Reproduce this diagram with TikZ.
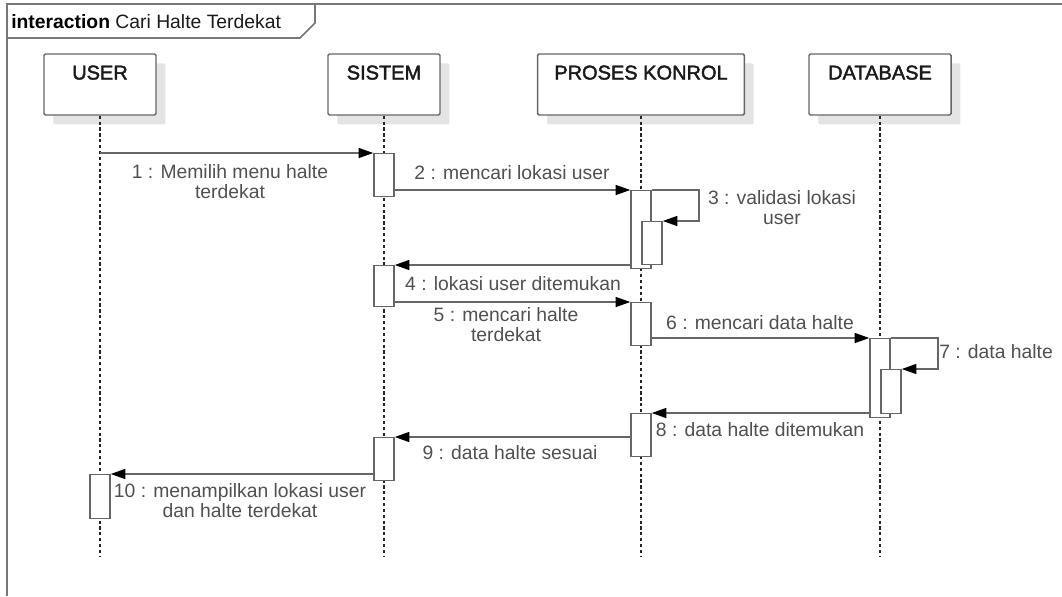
\documentclass[tikz,border=0pt]{standalone}
\usepackage{fontspec}
\setmainfont{Liberation Sans}
\newfontfamily\headfont[FakeBold=2]{Liberation Sans}
\usetikzlibrary{arrows.meta,shadows}
\definecolor{linegray}{HTML}{666666}
\definecolor{framegray}{HTML}{777777}
\definecolor{textgray}{HTML}{505050}
\definecolor{headtext}{HTML}{1A1A1A}
\definecolor{shadowgray}{HTML}{E4E4E4}

\begin{document}
\begin{tikzpicture}[x=0.75pt,y=-0.75pt,
  frame/.style={draw=framegray, line width=1.2pt},
  head/.style={draw=linegray, line width=1.1pt, fill=white, rounded corners=1pt,
    minimum height=45.75pt, inner sep=0pt,
    drop shadow={shadow xshift=7pt, shadow yshift=-7pt, fill=shadowgray, opacity=1}},
  headlbl/.style={font=\headfont\fontsize{15}{18}\selectfont, text=headtext, anchor=north, inner sep=0pt, yshift=-9pt},
  life/.style={draw=black!85, line width=0.9pt, dash pattern=on 2.4pt off 2pt},
  act/.style={draw=linegray, line width=1.1pt, fill=white, minimum width=15pt, inner sep=0pt, anchor=north},
  msg/.style={draw=linegray, line width=1.2pt, -{Triangle[length=11pt,width=7.5pt,color=black]}},
  lbl/.style={text=textgray, font=\fontsize{14.5}{15}\selectfont, align=center, inner sep=0pt}
]
\useasboundingbox (0,0) rectangle (1062,596);

% interaction frame and its name tab
\draw[frame] (7,596) -- (7,4) -- (1062,4);
\draw[frame] (7,38) -- (300,38) -- (315,23) -- (315,4);
\node[anchor=base west, inner sep=0pt, font=\fontsize{14.5}{16}\selectfont] (title) at (11,28)
  {\textbf{interaction} \textcolor{headtext}{Cari Halte Terdekat}};

% lifeline heads
\node[head, minimum width=84pt]    (user)  at (100,84.5) {};
\node[head, minimum width=84pt]    (sis)   at (384,84.5) {};
\node[head, minimum width=155pt]   (pro)   at (641,84.5) {};
\node[head, minimum width=106.5pt] (db)    at (880,84.5) {};
\node[headlbl] (userlbl) at (user.north) {USER};
\node[headlbl] (sislbl)  at (sis.north)  {SISTEM};
\node[headlbl] (prolbl)  at (pro.north)  {PROSES KONROL};
\node[headlbl] (dblbl)   at (db.north)   {DATABASE};

% lifelines
\coordinate (userend) at (100,556);
\coordinate (sisend)  at (384,556);
\coordinate (proend)  at (641,556);
\coordinate (dbend)   at (880,556);
\draw[life] (user) -- (userend);
\draw[life] (sis) -- (sisend);
\draw[life] (pro) -- (proend);
\draw[life] (db) -- (dbend);

% activation bars
\node[act, minimum height=32.25pt] (s1)  at (384,153) {};
\node[act, minimum height=58.5pt]  (p1)  at (641,190) {};
\node[act, minimum height=32.25pt] (p1b) at (652,221) {};
\node[act, minimum height=30.75pt] (s2)  at (384,265) {};
\node[act, minimum height=32.25pt] (p2)  at (641,302) {};
\node[act, minimum height=59.25pt] (d1)  at (880,338) {};
\node[act, minimum height=33pt]    (d1b) at (891,369) {};
\node[act, minimum height=32.25pt] (p3)  at (641,413) {};
\node[act, minimum height=32.25pt] (s3)  at (384,437) {};
\node[act, minimum height=33pt]    (u1)  at (100,474) {};

% messages
\draw[msg] (user |- s1.north west) -- (s1.north west);
\draw[msg] (s1.east |- p1.north west) -- (p1.north west);
\draw[msg] (p1.north east) -- ++(47,0) |- (p1b.north east);
\draw[msg] (p1.west |- s2.north east) -- (s2.north east);
\draw[msg] (s2.east |- p2.north west) -- (p2.north west);
\draw[msg] (p2.east |- d1.north west) -- (d1.north west);
\draw[msg] (d1.north east) -- ++(47,0) |- (d1b.north east);
\draw[msg] (d1.west |- p3.north east) -- (p3.north east);
\draw[msg] (p3.west |- s3.north east) -- (s3.north east);
\draw[msg] (s3.west |- u1.north east) -- (u1.north east);

% message labels
\node[lbl] (m1)  at (230,182) {1 : Memilih menu halte\\terdekat};
\node[lbl] (m2)  at (512,173) {2 : mencari lokasi user};
\node[lbl] (m3)  at (782,208) {3 : validasi lokasi\\user};
\node[lbl] (m4)  at (513,284) {4 : lokasi user ditemukan};
\node[lbl] (m5)  at (506,325) {5 : mencari halte\\terdekat};
\node[lbl] (m6)  at (760,323) {6 : mencari data halte};
\node[lbl, anchor=west] (m7) at (939,352) {7 : data halte};
\node[lbl] (m8)  at (760,430) {8 : data halte ditemukan};
\node[lbl] (m9)  at (510,453) {9 : data halte sesuai};
\node[lbl] (m10) at (240,501) {10 : menampilkan lokasi user\\dan halte terdekat};
\end{tikzpicture}
\end{document}
